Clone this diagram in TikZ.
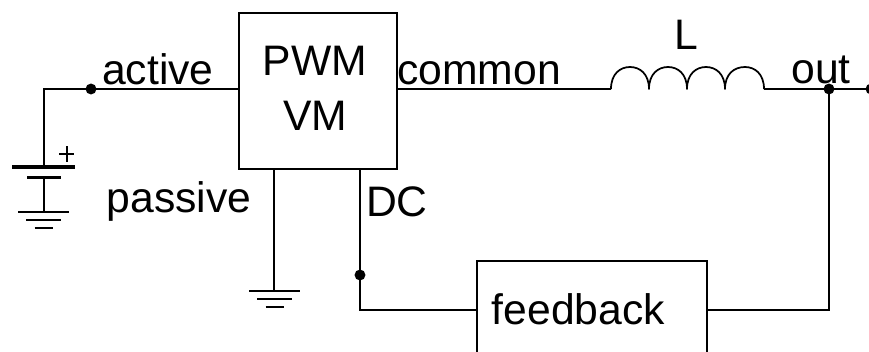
\documentclass[tikz,border=0pt]{standalone}
\usepackage{fontspec}
\setmainfont{Liberation Sans}
\tikzset{
  px/.style={x=0.75pt,y=-0.75pt},
  wire/.style={draw=black,line width=1.6pt},
  thin wire/.style={draw=black,line width=1.4pt},
  dotnode/.style={circle,fill=black,inner sep=0pt,minimum size=8.2pt},
  txt/.style={font=\fontsize{32}{41}\selectfont,inner sep=0pt,text=black,anchor=base},
  block/.style={draw=black,line width=1.5pt,inner sep=0pt,anchor=north west},
  gndbar/.style={draw=black,line width=1.6pt}
}
\newcommand{\gndsym}[2]{%
  \draw[gndbar] (#1-25.5,#2) -- (#1+25.5,#2);
  \draw[gndbar] (#1-17.5,#2+8) -- (#1+17.5,#2+8);
  \draw[gndbar] (#1-9,#2+16) -- (#1+9,#2+16);}
\begin{document}
\begin{tikzpicture}[px]
\useasboundingbox (0,0) rectangle (869,351);
\clip (0,0) rectangle (869,351);
% blocks
\node[block,minimum width=118.5pt,minimum height=117pt] (pwm) at (237.5,11.5) {};
\node[txt] (pwmtxt) at (315,75) {PWM};
\node[txt] (vmtxt) at (315,130) {VM};
\node[block,minimum width=172.5pt,minimum height=100pt] (fb) at (475.5,259.5) {};
\node[txt] (fbtxt) at (578.5,324) {feedback};
% anchors
\coordinate (battop) at (44,167);
\coordinate (batbot) at (44,177);
\coordinate (gnda) at (44,212);
\coordinate (corner) at (44,89);
\node[dotnode] (d1) at (91,89) {};
\node[dotnode] (d2) at (360,275) {};
\node[dotnode] (d3) at (829,89) {};
\node[dotnode] (d4) at (871,89) {};
\coordinate (lin) at (611,89);
\coordinate (lout) at (764,89);
\coordinate (gndb) at (274,291);
% wires
\draw[wire] (battop) -- (corner) -- (d1.center) -- (238,89);
\draw[wire] (396,89) -- (lin);
\draw[wire] (lout) -- (d3.center) -- (d4.center);
\draw[thin wire] (274,168) -- (gndb);
\draw[thin wire] (360,168) -- (d2.center) |- (476,310);
\draw[thin wire] (706,310) -| (d3.center);
\draw[thin wire] (batbot) -- (gnda);
% inductor
\draw[line width=1.3pt,line join=round] (lin)
  .. controls (611,74) and (620,67) .. (630,67) .. controls (640,67) and (649,74) .. (649,89)
  .. controls (649,74) and (658,67) .. (668,67) .. controls (678,67) and (687,74) .. (687,89)
  .. controls (687,74) and (696,67) .. (706,67) .. controls (716,67) and (725,74) .. (725,89)
  .. controls (725,74) and (734,67) .. (745,67) .. controls (755,67) and (764,74) .. (lout);
% battery
\draw[line width=2.4pt] (12,167) -- (75,167);
\draw[line width=2.4pt] (27,177.5) -- (61,177.5);
\draw[line width=1.5pt] (59,154) -- (74,154);
\draw[line width=1.5pt] (66.5,146) -- (66.5,162);
\gndsym{43.5}{212}
\gndsym{274.5}{291}
% labels
\node[txt] (active) at (158,84) {active};
\node[txt] (passive) at (179,212) {passive};
\node[txt] (common) at (479,84) {common};
\node[txt] (dc) at (397,216) {DC};
\node[txt] (ltxt) at (686,49) {L};
\node[txt] (out) at (821,83) {out};
\end{tikzpicture}
\end{document}
